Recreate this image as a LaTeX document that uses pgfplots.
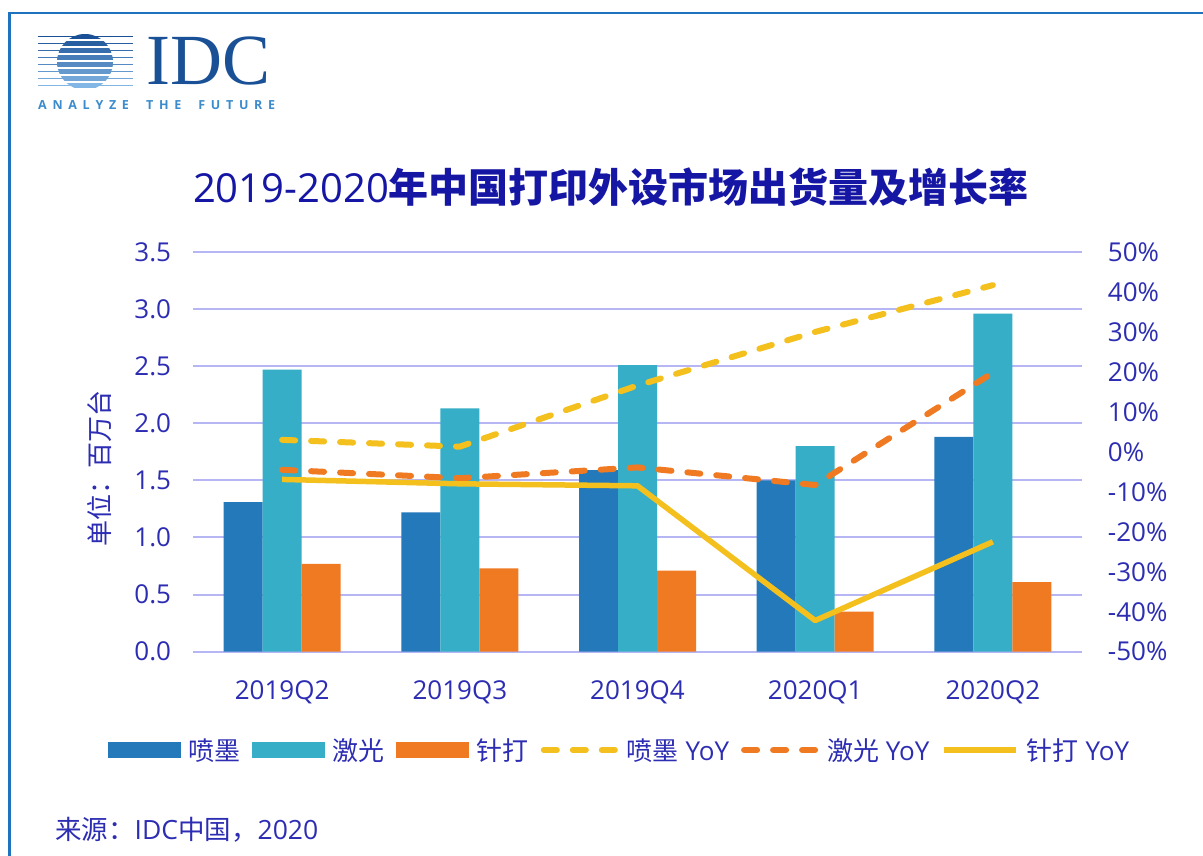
\documentclass[border=0pt]{standalone}
\usepackage{pgfplots}
\pgfplotsset{compat=1.18}
\usepackage{pgfplotstable}
\usepackage{fontspec}
\setmainfont{Open Sans}
\newfontfamily\cjk{Noto Sans CJK SC}
\newfontfamily\logoserif{Liberation Serif}
\newcommand\zh[1]{{\cjk #1}}
\definecolor{cInk}{RGB}{36,121,186}
\definecolor{cLaser}{RGB}{54,174,199}
\definecolor{cNeedle}{RGB}{240,122,34}
\definecolor{cYel}{RGB}{244,192,30}
\definecolor{cGrid}{RGB}{182,182,245}
\definecolor{cText}{RGB}{45,45,180}
\definecolor{cTitle}{RGB}{22,22,165}
\definecolor{cFrame}{RGB}{30,115,190}
\definecolor{logoDark}{RGB}{25,80,150}
\definecolor{logoLight}{RGB}{140,192,236}
\definecolor{logoText}{RGB}{60,140,205}

\pgfplotstableread{
x ink laser needle inkyoy laseryoy needleyoy
0 1.31 2.47 0.77 3.0  -4.5 -6.9
1 1.22 2.13 0.73 1.3  -6.6 -8.0
2 1.59 2.51 0.71 16.6 -3.9 -8.5
3 1.50 1.80 0.35 30.0 -8.3 -42.2
4 1.88 2.96 0.61 41.7 19.8 -22.5
}\data

\begin{document}
\begin{tikzpicture}
\path[use as bounding box, fill=white] (0pt,0pt) rectangle (1203pt,856pt);
% frame
\draw[cFrame, line width=2.5pt] (9.5pt,0pt) -- (9.5pt,843pt) -- (1203pt,843pt);
% logo
\foreach \i in {0,...,7} {
  \pgfmathsetmacro\p{100-\i*13}
  \draw[logoDark!\p!logoLight, line width=1.1pt] (38pt,{(819.5-7*\i)*1pt}) -- (133pt,{(819.5-7*\i)*1pt});
}
\begin{scope}
\clip (85pt,794pt) circle (28pt);
\foreach \i in {0,...,7} {
  \pgfmathsetmacro\p{100-\i*13}
  \fill[logoDark!\p!logoLight] (50pt,{(817-7*\i)*1pt}) rectangle (120pt,{(822-7*\i)*1pt});
}
\end{scope}
\node[anchor=base west, inner sep=0pt, text=logoDark] at (146pt,771pt) {\fontsize{72}{72}\selectfont\logoserif IDC};
\node[anchor=base west, inner sep=0pt, text=logoText] at (38pt,746pt) {\fontsize{12.5}{12.5}\selectfont\bfseries\makebox[237pt][s]{A\hfill N\hfill A\hfill L\hfill Y\hfill Z\hfill E\hfill\hfill\hfill T\hfill H\hfill E\hfill\hfill\hfill F\hfill U\hfill T\hfill U\hfill R\hfill E}};
% title
\node[text=cTitle, inner sep=0pt] at (611pt,669pt) {\fontsize{40}{48}\selectfont 2019-2020{\cjk\bfseries 年中国打印外设市场出货量及增长率}};
% y label
\node[rotate=90, text=cText, inner sep=0pt] at (100pt,387pt) {\fontsize{26}{30}\selectfont\zh{单位：百万台}};
% source
\node[anchor=west, text=cText, inner sep=0pt] at (55pt,26pt) {\fontsize{26.5}{30}\selectfont\zh{来源：}IDC\zh{中国，}2020};

\begin{axis}[
  at={(193.3pt,204.3pt)}, anchor=south west, scale only axis,
  width=888.4pt, height=399.7pt,
  xmin=-0.5, xmax=4.5, ymin=0, ymax=3.5,
  ybar=0pt, bar width=39pt,
  xtick={0,1,2,3,4}, xticklabels={2019Q2,2019Q3,2019Q4,2020Q1,2020Q2},
  ytick={0,0.5,1,1.5,2,2.5,3,3.5},
  yticklabels={0.0,0.5,1.0,1.5,2.0,2.5,3.0,3.5},
  axis line style={draw=none}, major tick length=0pt,
  ymajorgrids, grid style={cGrid, line width=2pt},
  tick label style={font=\fontsize{26}{30}\selectfont, text=cText},
  xticklabel style={anchor=north, inner sep=0pt, yshift=-29pt},
  yticklabel style={anchor=east, inner sep=0pt, xshift=-22pt},
]
\addplot[fill=cInk, draw=none] table[x=x,y=ink]{\data};
\addplot[fill=cLaser, draw=none] table[x=x,y=laser]{\data};
\addplot[fill=cNeedle, draw=none] table[x=x,y=needle]{\data};
\end{axis}

\begin{axis}[
  at={(193.3pt,204.3pt)}, anchor=south west, scale only axis,
  width=888.4pt, height=399.7pt,
  xmin=-0.5, xmax=4.5, ymin=-50, ymax=50,
  hide x axis, axis y line*=right,
  axis line style={draw=none}, major tick length=0pt,
  ytick={-50,-40,-30,-20,-10,0,10,20,30,40,50},
  yticklabels={-50\%,-40\%,-30\%,-20\%,-10\%,0\%,10\%,20\%,30\%,40\%,50\%},
  tick label style={font=\fontsize{26}{30}\selectfont, text=cText},
  yticklabel style={anchor=west, inner sep=0pt, xshift=26pt},
  legend columns=-1,
  legend image code/.code={\draw[#1] (0pt,0pt) -- (72pt,0pt);},
  legend style={at={(0.4785,-0.246)}, anchor=center, draw=none, fill=none,
    font=\fontsize{26}{30}\selectfont, text=cText,
    nodes={inner sep=0pt},
    /tikz/every odd column/.append style={column sep=8pt},
    /tikz/every even column/.append style={column sep=12pt}},
]
\addlegendimage{legend image code/.code={\fill[cInk] (0pt,-7.5pt) rectangle (72pt,7.5pt);}}
\addlegendentry{\zh{喷墨}}
\addlegendimage{legend image code/.code={\fill[cLaser] (0pt,-7.5pt) rectangle (72pt,7.5pt);}}
\addlegendentry{\zh{激光}}
\addlegendimage{legend image code/.code={\fill[cNeedle] (0pt,-7.5pt) rectangle (72pt,7.5pt);}}
\addlegendentry{\zh{针打}}
\addplot[cYel, line width=6pt, dash pattern=on 13pt off 16pt, line cap=round, line join=round] table[x=x,y=inkyoy]{\data};
\addlegendentry{\zh{喷墨} YoY}
\addplot[cNeedle, line width=6pt, dash pattern=on 13pt off 16pt, line cap=round, line join=round] table[x=x,y=laseryoy]{\data};
\addlegendentry{\zh{激光} YoY}
\addplot[cYel, line width=5.5pt, line join=round] table[x=x,y=needleyoy]{\data};
\addlegendentry{\zh{针打} YoY}
\end{axis}
\end{tikzpicture}
\end{document}
